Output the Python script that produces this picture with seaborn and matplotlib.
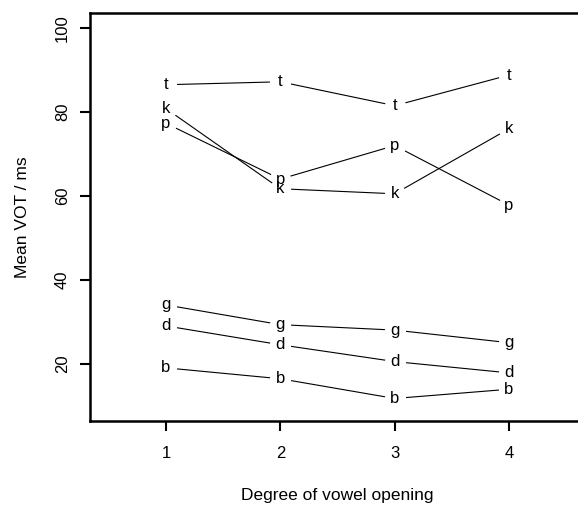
import numpy as np
import pandas as pd
import matplotlib
matplotlib.use("Agg")
import matplotlib.pyplot as plt
import seaborn as sns

# mean VOT (ms) per stop, by degree of vowel opening
opening = [1, 2, 3, 4]
stops = ['b', 'd', 'g', 'p', 't', 'k']
vot_b = [19.0, 16.4, 11.7, 13.9]
vot_d = [29.0, 24.5, 20.5, 17.8]
vot_g = [34.0, 29.3, 28.0, 25.0]
vot_p = [77.3, 64.0, 72.0, 57.8]
vot_t = [86.5, 87.2, 81.5, 88.8]
vot_k = [80.8, 61.7, 60.5, 76.0]

df = pd.DataFrame({
    'opening': opening * len(stops),
    'stop': np.repeat(stops, len(opening)),
    'vot': vot_b + vot_d + vot_g + vot_p + vot_t + vot_k,
})

sns.set_style("ticks", {'axes.edgecolor': 'black', 'xtick.color': 'black',
                        'ytick.color': 'black', 'text.color': 'black',
                        'axes.labelcolor': 'black'})
plt.rcParams['font.family'] = ['Liberation Sans', 'DejaVu Sans']

W, H = 578, 505
fig = plt.figure(figsize=(W / 100, H / 100), dpi=100)
ax = fig.add_axes([90 / W, 1 - 420.7 / H, 495 / W, (420.7 - 13) / H])

for s in stops:
    sub = df[df['stop'] == s]
    # white markers leave gaps round the letters, like R's type="b"
    sns.lineplot(data=sub, x='opening', y='vot', color='black', lw=0.8,
                 marker='o', markersize=14.5, markerfacecolor='white',
                 markeredgecolor='white', ax=ax, zorder=2)
    for x, y in zip(sub['opening'], sub['vot']):
        ax.text(x, y, s, ha='center', va='center', fontsize=12, zorder=5)

ax.set_xlim(0.335, 4.665)
ax.set_ylim(6.4, 103.6)
ax.set_xticks(opening)
ax.set_yticks([20, 40, 60, 80, 100])
ax.tick_params(length=7, width=1.5, labelsize=12)
ax.tick_params(axis='x', pad=11)
ax.tick_params(axis='y', pad=7.5)
plt.setp(ax.get_yticklabels(), rotation=90, va='center')

for side in ['top', 'left', 'bottom']:
    ax.spines[side].set_linewidth(1.8)
ax.spines['right'].set_visible(False)

ax.set_xlabel('Degree of vowel opening', fontsize=12.5, labelpad=20)
ax.set_ylabel('Mean VOT / ms', fontsize=12.5, labelpad=18)

plt.savefig('out.png', dpi=100)
